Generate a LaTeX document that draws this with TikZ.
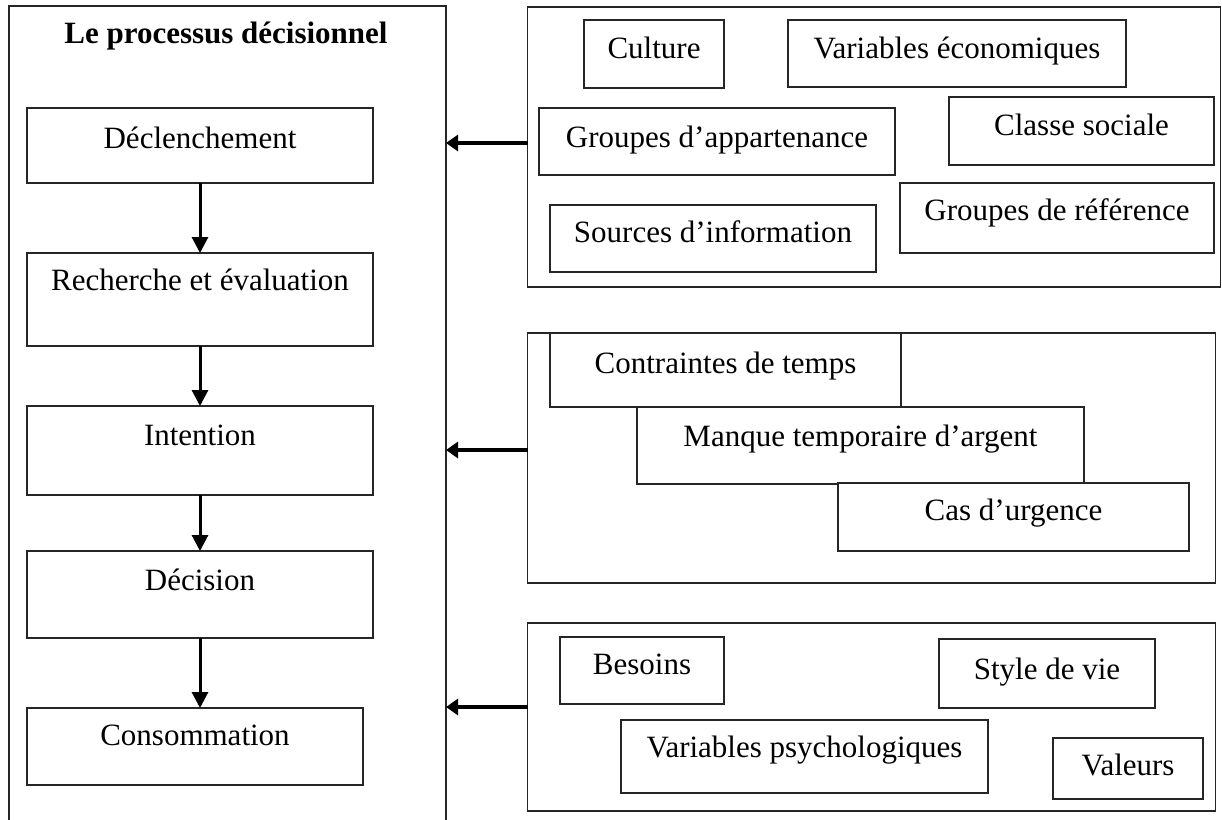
\documentclass[tikz,border=0pt]{standalone}
\usepackage{fontspec}
\setmainfont{Liberation Serif}
\usetikzlibrary{arrows.meta}
\newcommand{\mybox}[7]{%
  \node[boxst, minimum width={(#4-#2)*1pt}, minimum height={(#5-#3)*1pt}] (#1) at ({(#2+#4)/2},{(#3+#5)/2}) {};
  \node[txt] (#1t) at ({(#2+#4)/2},#6) {#7};
}
\tikzset{
  boxst/.style={draw=black!85, line width=1.3pt, fill=white, inner sep=0pt, outer sep=0pt, rectangle},
  txt/.style={anchor=base, inner sep=0pt, font=\fontsize{31}{37}\selectfont, text=black},
  downarr/.style={line width=3pt, -{Triangle[length=16pt,width=16pt]}},
  sidearr/.style={line width=4.5pt, -{Triangle[length=12pt,width=16pt]}},
}
\begin{document}
\begin{tikzpicture}[x=1pt,y=-1pt]
\useasboundingbox[fill=white] (0,0) rectangle (1222,819);
% left process frame
\node[boxst, fill=none, minimum width=437pt, minimum height=840pt] (proc) at (227.5,426) {};
\node[anchor=base, inner sep=0pt, font=\fontsize{31}{37}\selectfont\bfseries] (title) at (226,43) {Le processus décisionnel};
\mybox{decl}{27}{108}{373}{183}{148}{Déclenchement}
\mybox{rech}{27}{253}{373}{346}{290}{Recherche et évaluation}
\mybox{inte}{27}{406}{373}{495}{445}{Intention}
\mybox{deci}{27}{551}{373}{638}{590}{Décision}
\mybox{cons}{27}{708}{363}{785}{745}{Consommation}
\draw[downarr] (decl.south) -- (rech.north);
\draw[downarr] (rech.south) -- (inte.north);
\draw[downarr] (inte.south) -- (deci.north);
\draw[downarr] (deci.south) -- (deci.south |- cons.north);
% group 1
\node[boxst, minimum width=693pt, minimum height=280pt] (g1) at (874,147) {};
\mybox{cult}{584}{20}{724}{88}{58}{Culture}
\mybox{veco}{788}{20}{1126}{87}{58}{Variables économiques}
\mybox{gapp}{539}{108}{895}{175}{147}{Groupes d’appartenance}
\mybox{clas}{949}{97}{1214}{165}{135}{Classe sociale}
\mybox{sinf}{550}{205}{876}{272}{242}{Sources d’information}
\mybox{gref}{900}{183}{1214}{253}{220}{Groupes de référence}
% group 2
\node[boxst, minimum width=688pt, minimum height=250pt] (g2) at (871.5,458) {};
\mybox{ctps}{550}{333}{901}{407}{373}{Contraintes de temps}
\mybox{mtar}{637}{407}{1084}{484}{446}{Manque temporaire d’argent}
\mybox{curg}{838}{483}{1189}{551}{520}{Cas d’urgence}
% group 3
\node[boxst, minimum width=688pt, minimum height=188pt] (g3) at (871.5,717) {};
\mybox{beso}{560}{637}{724}{704}{674}{Besoins}
\mybox{styl}{939}{639}{1155}{708}{679}{Style de vie}
\mybox{vpsy}{621}{720}{988}{793}{757}{Variables psychologiques}
\mybox{vale}{1053}{738}{1203}{799}{775}{Valeurs}
% side arrows
\coordinate (a1) at (527.5,143);
\coordinate (a2) at (527.5,450);
\coordinate (a3) at (527.5,707);
\draw[sidearr] (a1) -- (a1 -| proc.east);
\draw[sidearr] (a2) -- (a2 -| proc.east);
\draw[sidearr] (a3) -- (a3 -| proc.east);
\end{tikzpicture}
\end{document}
